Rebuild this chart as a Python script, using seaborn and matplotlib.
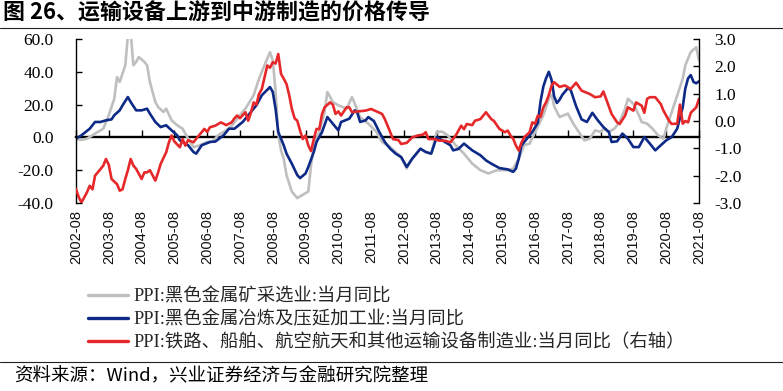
import pandas as pd
import matplotlib
matplotlib.use('Agg')
import matplotlib.pyplot as plt
import matplotlib.dates as mdates
from matplotlib.lines import Line2D
from matplotlib.ticker import FuncFormatter
import seaborn as sns

sns.set_theme(style='white')
plt.rcParams['font.family'] = ['Liberation Serif', 'Noto Sans CJK SC']
plt.rcParams['axes.unicode_minus'] = False

# ---------------- data ----------------
title_text = '图 26、运输设备上游到中游制造的价格传导'
source_text = '资料来源：Wind，兴业证券经济与金融研究院整理'
series_names = ['PPI:黑色金属矿采选业:当月同比',
                'PPI:黑色金属冶炼及压延加工业:当月同比',
                'PPI:铁路、船舶、航空航天和其他运输设备制造业:当月同比（右轴）']

x_tick_labels = ['2002-08', '2003-08', '2004-08', '2005-08', '2006-08', '2007-08',
                 '2008-08', '2009-08', '2010-08', '2011-08', '2012-08', '2013-08',
                 '2014-08', '2015-08', '2016-08', '2017-08', '2018-08', '2019-08',
                 '2020-08', '2021-08']
left_ticks = [-40, -20, 0, 20, 40, 60]
right_ticks = [-3, -2, -1, 0, 1, 2, 3]

gray_dates = ['2002-08', '2002-10', '2002-12', '2003-03', '2003-06', '2003-08', '2003-10', '2003-11',
              '2003-12', '2004-02', '2004-03', '2004-04', '2004-05', '2004-06', '2004-07', '2004-09',
              '2004-10', '2004-11', '2005-01', '2005-02', '2005-04', '2005-05', '2005-07', '2005-09',
              '2005-11', '2006-01', '2006-03', '2006-05', '2006-08', '2006-10', '2006-12', '2007-03',
              '2007-05', '2007-08', '2007-10', '2008-01', '2008-03', '2008-05', '2008-07', '2008-08',
              '2008-09', '2008-10', '2008-11', '2008-12', '2009-01', '2009-03', '2009-05', '2009-07',
              '2009-09', '2009-10', '2009-11', '2010-01', '2010-03', '2010-04', '2010-06', '2010-08',
              '2010-11', '2011-01', '2011-02', '2011-04', '2011-07', '2011-10', '2011-12', '2012-03',
              '2012-05', '2012-07', '2012-09', '2012-11', '2013-02', '2013-04', '2013-06', '2013-08',
              '2013-10', '2013-12', '2014-03', '2014-06', '2014-09', '2014-12', '2015-03', '2015-06',
              '2015-10', '2015-12', '2016-02', '2016-04', '2016-06', '2016-08', '2016-11', '2017-01',
              '2017-02', '2017-03', '2017-05', '2017-08', '2017-10', '2017-12', '2018-02', '2018-04',
              '2018-06', '2018-08', '2018-09', '2018-11', '2019-01', '2019-03', '2019-05', '2019-06',
              '2019-08', '2019-10', '2019-11', '2020-01', '2020-03', '2020-05', '2020-07', '2020-08',
              '2020-10', '2020-12', '2021-02', '2021-03', '2021-05', '2021-07', '2021-08']
gray_values = [-1, -1.5, -0.8, 2.3, 5.3, 13.5, 23.6, 36.8,
               33.8, 44, 62, 64, 44, 46, 49, 46,
               44, 33.8, 21.6, 18.5, 15.5, 17.5, 10.4, 7.4,
               5.3, -0.8, -5.9, -5, -2.8, -2.5, 1.3, 4.3,
               7, 13.5, 17.5, 25.7, 35.8, 44, 52, 47,
               28, 2, -8, -13, -23, -33, -37, -35,
               -33, -17, -5, 3.3, 15.5, 27.7, 21.6, 19.6,
               17.5, 24.6, 20.5, 12.4, 8.4, 3.3, -2.8, -5.9,
               -9, -12, -19, -13, -7, -9, -10, 3.3,
               3.5, 1.3, -4.8, -9.9, -16, -20, -22, -20,
               -20, -19, -13, -4.8, -3.8, 3.3, 13.5, 23.6,
               26, 19, 12.4, 14.5, 8.4, 3.3, -1.8, -0.8,
               4.3, 3.3, 5.3, 3.3, 5.3, 9.4, 17.5, 23.6,
               20.5, 13.5, 9.4, 8.4, 5.3, 1.3, -0.8, 5.3,
               15.5, 25.5, 35.8, 43.9, 52, 55, 47]

blue_dates = ['2002-08', '2002-10', '2003-01', '2003-03', '2003-05', '2003-07', '2003-09', '2003-10',
              '2003-12', '2004-01', '2004-03', '2004-04', '2004-06', '2004-08', '2004-10', '2004-11',
              '2005-01', '2005-03', '2005-05', '2005-07', '2005-09', '2005-10', '2006-01', '2006-03',
              '2006-04', '2006-06', '2006-09', '2006-11', '2007-02', '2007-04', '2007-06', '2007-09',
              '2007-11', '2008-02', '2008-04', '2008-06', '2008-07', '2008-08', '2008-09', '2008-10',
              '2008-12', '2009-01', '2009-03', '2009-05', '2009-06', '2009-08', '2009-09', '2009-11',
              '2009-12', '2010-02', '2010-04', '2010-06', '2010-08', '2010-09', '2010-12', '2011-02',
              '2011-03', '2011-04', '2011-06', '2011-07', '2011-09', '2011-11', '2012-01', '2012-03',
              '2012-05', '2012-07', '2012-09', '2012-11', '2013-02', '2013-04', '2013-06', '2013-08',
              '2013-10', '2014-01', '2014-02', '2014-04', '2014-06', '2014-09', '2014-12', '2015-02',
              '2015-04', '2015-07', '2015-10', '2015-12', '2016-01', '2016-02', '2016-03', '2016-05',
              '2016-07', '2016-09', '2016-10', '2016-11', '2016-12', '2017-01', '2017-02', '2017-03',
              '2017-04', '2017-05', '2017-06', '2017-08', '2017-09', '2017-10', '2017-11', '2018-01',
              '2018-03', '2018-05', '2018-07', '2018-09', '2018-11', '2018-12', '2019-02', '2019-04',
              '2019-06', '2019-08', '2019-10', '2019-12', '2020-02', '2020-04', '2020-06', '2020-08',
              '2020-10', '2020-12', '2021-02', '2021-03', '2021-04', '2021-05', '2021-06', '2021-07',
              '2021-08']
blue_values = [-0.8, 1.3, 5.3, 9.4, 9.4, 10.4, 11, 13.5,
               16.5, 19.5, 24.6, 21.6, 16.5, 16.5, 17.5, 14.5,
               9.4, 6.3, 7.4, 4.3, 1.3, -1.8, -4.8, -8.9,
               -9.9, -4.8, -2.8, -2.5, 1.3, 5.3, 5.3, 9.4,
               13.5, 19.6, 25.7, 29, 30.7, 27.7, 17.5, 3.3,
               -4.8, -9.9, -16, -23, -24.8, -22, -18, -8.9,
               -2.8, 3.3, 12.4, 8.4, 4.3, 9.4, 11.4, 16.5,
               15, 9.4, 10.4, 12.4, 10, 3.3, -2.8, -6.9,
               -9.9, -12, -18, -13, -6.9, -8.9, -9.9, 0.2,
               -1.8, -4.8, -7.9, -7, -3.8, -7.9, -10.9, -14,
               -16, -18.7, -19.5, -21, -19, -13, -5, -0.8,
               3.3, 9, 22, 31, 36, 40, 35, 25,
               21, 23, 26, 30, 29, 24, 19, 11,
               9.4, 15, 10.4, 6.3, 3.3, -2.8, -2.4, 2.3,
               -0.8, -5.9, -5.9, 0.2, -3.8, -7.9, -4.8, -1.8,
               0.2, 5.3, 18.5, 29.7, 36, 38, 33.8, 33,
               34.2]

red_dates = ['2002-08', '2002-09', '2002-10', '2002-12', '2003-01', '2003-02', '2003-03', '2003-05',
             '2003-06', '2003-07', '2003-08', '2003-09', '2003-11', '2003-12', '2004-01', '2004-02',
             '2004-03', '2004-04', '2004-05', '2004-06', '2004-08', '2004-09', '2004-10', '2004-11',
             '2005-01', '2005-02', '2005-03', '2005-05', '2005-06', '2005-07', '2005-08', '2005-10',
             '2005-11', '2005-12', '2006-01', '2006-03', '2006-04', '2006-07', '2006-08', '2006-09',
             '2006-11', '2007-01', '2007-03', '2007-05', '2007-06', '2007-07', '2007-08', '2007-10',
             '2007-11', '2007-12', '2008-01', '2008-02', '2008-03', '2008-04', '2008-05', '2008-06',
             '2008-07', '2008-08', '2008-09', '2008-10', '2008-11', '2008-12', '2009-01', '2009-02',
             '2009-03', '2009-04', '2009-05', '2009-06', '2009-07', '2009-08', '2009-09', '2009-10',
             '2009-11', '2009-12', '2010-01', '2010-02', '2010-03', '2010-05', '2010-06', '2010-07',
             '2010-08', '2010-09', '2010-11', '2010-12', '2011-01', '2011-03', '2011-06', '2011-08',
             '2011-10', '2011-12', '2012-01', '2012-02', '2012-04', '2012-06', '2012-07', '2012-09',
             '2012-11', '2013-01', '2013-03', '2013-04', '2013-05', '2013-07', '2013-09', '2013-11',
             '2014-01', '2014-03', '2014-05', '2014-06', '2014-07', '2014-09', '2014-10', '2014-12',
             '2015-02', '2015-04', '2015-05', '2015-07', '2015-09', '2015-10', '2015-11', '2015-12',
             '2016-01', '2016-02', '2016-03', '2016-04', '2016-06', '2016-07', '2016-08', '2016-09',
             '2016-10', '2016-11', '2016-12', '2017-01', '2017-02', '2017-03', '2017-05', '2017-07',
             '2017-09', '2017-11', '2018-01', '2018-04', '2018-06', '2018-08', '2018-09', '2018-10',
             '2018-12', '2019-02', '2019-03', '2019-05', '2019-06', '2019-08', '2019-09', '2019-11',
             '2019-12', '2020-01', '2020-02', '2020-04', '2020-05', '2020-06', '2020-07', '2020-09',
             '2020-10', '2020-11', '2020-12', '2021-01', '2021-02', '2021-03', '2021-04', '2021-05',
             '2021-06', '2021-07', '2021-08']
red_values = [-2.49, -2.79, -2.98, -2.61, -2.37, -2.5, -2.0, -1.76,
              -1.63, -1.39, -1.6, -2.12, -2.31, -2.55, -2.5, -2.12,
              -1.8, -1.39, -1.63, -1.75, -2.12, -1.88, -1.88, -1.8,
              -2.18, -1.88, -1.57, -1.15, -0.78, -0.53, -0.75, -0.96,
              -0.66, -0.9, -0.7, -0.78, -0.65, -0.29, -0.4, -0.23,
              -0.17, -0.05, -0.15, -0.05, 0.1, 0.2, 0.1, 0.32,
              0.01, 0.3, 0.68, 0.6, 0.99, 1.17, 1.6, 2.03,
              1.95, 2.15, 2.1, 2.45, 1.72, 1.55, 1.35, 0.93,
              0.45, 0.1, 0.01, -0.35, -0.66, -0.53, -0.9, -1.1,
              -0.66, -0.29, -0.3, 0.26, 0.5, 0.68, 0.6, 0.26,
              0.35, 0.2, 0.5, 0.5, 0.32, 0.35, 0.38, 0.44,
              0.35, 0.26, 0.07, -0.17, -0.66, -0.7, -0.84, -0.8,
              -0.6, -0.53, -0.5, -0.41, -0.66, -0.66, -0.72, -0.72,
              -0.78, -0.53, -0.17, -0.3, -0.11, -0.15, 0.01, 0.07,
              0.32, 0.07, 0.0, -0.29, -0.41, -0.35, -0.53, -0.65,
              -0.9, -1.08, -0.8, -0.6, -0.41, -0.05, -0.1, 0.2,
              0.15, 0.5, 0.68, 0.95, 1.3, 1.42, 1.25, 1.3,
              1.17, 1.4, 1.11, 0.99, 0.87, 0.9, 1.08, 0.81,
              0.26, -0.05, -0.11, 0.2, 0.5, 0.38, 0.68, 0.56,
              0.3, 0.81, 0.87, 0.87, 0.75, 0.62, 0.38, 0.01,
              -0.11, -0.1, -0.1, 0.6, -0.1, 0.0, -0.05, 0.3,
              0.4, 0.5, 0.81]

# ---------------- styles ----------------
GRAY = '#BFBFBF'
BLUE = '#0E2A87'
RED = '#E6282B'
LW = 1.9
FIG_W, FIG_H = 783, 391

fig = plt.figure(figsize=(FIG_W / 100, FIG_H / 100), dpi=100)
ax = fig.add_axes([76 / FIG_W, 1 - 203 / FIG_H, (699 - 76) / FIG_W, (203 - 39) / FIG_H])
ax2 = ax.twinx()

df_gray = pd.DataFrame({'date': pd.to_datetime(gray_dates), 'value': gray_values})
df_blue = pd.DataFrame({'date': pd.to_datetime(blue_dates), 'value': blue_values})
df_red = pd.DataFrame({'date': pd.to_datetime(red_dates), 'value': red_values})

sns.lineplot(data=df_gray, x='date', y='value', ax=ax, color=GRAY, lw=LW, legend=False)
sns.lineplot(data=df_blue, x='date', y='value', ax=ax, color=BLUE, lw=LW, legend=False)
sns.lineplot(data=df_red, x='date', y='value', ax=ax2, color=RED, lw=LW, legend=False)

tick_pos = pd.to_datetime(x_tick_labels)
ax.set_xlim(tick_pos[0], tick_pos[-1])
ax.set_ylim(left_ticks[0], left_ticks[-1])
ax2.set_ylim(right_ticks[0], right_ticks[-1])
for a in (ax, ax2):
    a.set_xlabel('')
    a.set_ylabel('')
    a.grid(False)

fmt = FuncFormatter(lambda v, p: f'{v:.1f}')
ax.set_yticks(left_ticks)
ax.yaxis.set_major_formatter(fmt)
ax2.set_yticks(right_ticks)
ax2.yaxis.set_major_formatter(fmt)

ax.tick_params(axis='y', left=True, direction='in', length=4, width=1, color='black',
               pad=16, labelsize=12.5, labelcolor='black')
ax2.tick_params(axis='y', right=True, direction='in', length=4, width=1, color='black',
                pad=11, labelsize=12.5, labelcolor='black')

ax.set_xticks(tick_pos)
ax.set_xticklabels(x_tick_labels, rotation=90, fontsize=10.5,
                   family=['Liberation Sans'], color='#111111')
ax.tick_params(axis='x', bottom=True, length=0, pad=5)

for a in (ax, ax2):
    a.spines['top'].set_visible(False)
    a.spines['bottom'].set_visible(False)
ax.spines['right'].set_visible(False)
ax2.spines['left'].set_visible(False)
ax.spines['left'].set_color('black')
ax.spines['left'].set_linewidth(1.0)
ax2.spines['right'].set_color('black')
ax2.spines['right'].set_linewidth(1.0)

# zero line with ticks (left axis zero)
zero_frac = (0 - left_ticks[0]) / (left_ticks[-1] - left_ticks[0])
sec = ax.secondary_xaxis(zero_frac)
sec.set_xticks(mdates.date2num(tick_pos))
sec.tick_params(axis='x', direction='in', length=5, width=1, color='black',
                bottom=True, top=False, labelbottom=False, labeltop=False)
sec.spines['top'].set_visible(False)
sec.spines['bottom'].set_visible(True)
sec.spines['bottom'].set_color('black')
sec.spines['bottom'].set_linewidth(1.7)

# title & rules
fig.text(3 / FIG_W, 1 - 13 / FIG_H, title_text, fontsize=15.8, fontweight='bold',
         family=['Noto Sans CJK SC'], va='center', ha='left', color='black')
fig.add_artist(Line2D([0, 1], [1 - 28 / FIG_H] * 2, transform=fig.transFigure,
                      color='#222222', lw=0.8))
fig.add_artist(Line2D([0, 1], [1 - 362 / FIG_H] * 2, transform=fig.transFigure,
                      color='#222222', lw=0.8))
fig.text(14 / FIG_W, 1 - 376 / FIG_H, source_text, fontsize=13.3,
         family=['Noto Sans CJK SC'], va='center', ha='left', color='black')

handles = [Line2D([], [], color=c, lw=2.4) for c in (GRAY, BLUE, RED)]
fig.legend(handles, series_names, loc='upper left',
           bbox_to_anchor=(88 / FIG_W, 1 - 288 / FIG_H),
           frameon=False, prop={'family': ['Liberation Serif', 'Noto Sans CJK SC'], 'size': 13.2},
           handlelength=2.2, handletextpad=0.3, labelspacing=0.3,
           borderpad=0, borderaxespad=0)

fig.savefig('out.png', dpi=100)
